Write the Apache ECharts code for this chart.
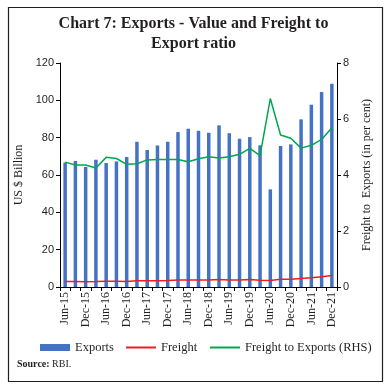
<!DOCTYPE html>
<html>
<head>
<meta charset="utf-8">
<script src="https://cdn.jsdelivr.net/npm/echarts@6/dist/echarts.min.js"></script>
<style>
html,body{margin:0;padding:0;background:#fff;}
#chart{width:387px;height:386px;}
</style>
</head>
<body>
<div id="chart"></div>
<script>
var categories = ['Jun-15','Sep-15','Dec-15','Mar-16','Jun-16','Sep-16','Dec-16','Mar-17','Jun-17','Sep-17','Dec-17','Mar-18','Jun-18','Sep-18','Dec-18','Mar-19','Jun-19','Sep-19','Dec-19','Mar-20','Jun-20','Sep-20','Dec-20','Mar-21','Jun-21','Sep-21','Dec-21'];
var exportsValues = [66.7,67.5,64.3,68.2,66.4,67.3,69.6,77.8,73.4,75.8,77.8,83.0,84.8,83.7,82.6,86.6,82.3,79.4,80.3,75.9,52.3,75.5,76.4,89.8,97.6,104.4,108.9];
var freightValues = [3.0,2.9,2.8,2.9,3.1,3.1,3.0,3.4,3.3,3.4,3.5,3.8,3.8,3.8,3.8,4.0,3.8,3.8,4.0,3.6,3.5,4.1,4.1,4.5,4.9,5.5,6.2];
var ratioValues = [4.46,4.36,4.36,4.25,4.63,4.59,4.38,4.40,4.54,4.55,4.55,4.55,4.47,4.58,4.65,4.61,4.65,4.74,4.95,4.69,6.73,5.43,5.31,4.96,5.06,5.27,5.69];
var leftTicks = {min:0, max:120, interval:20};
var rightTicks = {min:0, max:8, interval:2};

var serif = 'Liberation Serif';
var sans = 'Liberation Sans';
var legendText = {fontFamily:serif, fontSize:12.5, color:'#231f20'};
var chart = echarts.init(document.getElementById('chart'));
chart.setOption({
  animation:false,
  title:{text:'Chart 7: Exports - Value and Freight to\nExport ratio', left:'center', top:9,
    textStyle:{fontFamily:serif, fontWeight:'bold', fontSize:16, color:'#231f20', lineHeight:20}},
  grid:{left:60, right:50, top:63, bottom:99},
  legend:[
    {top:336, left:35, itemGap:0, itemWidth:30, itemHeight:7, icon:'rect', textStyle:legendText, data:['Exports']},
    {top:336, left:121, itemGap:0, itemWidth:30, itemHeight:2, icon:'rect', textStyle:legendText, data:['Freight']},
    {top:336, left:205, itemGap:0, itemWidth:30, itemHeight:2, icon:'rect', textStyle:legendText, data:['Freight to Exports (RHS)']}
  ],
  xAxis:{type:'category', data:categories, boundaryGap:true,
    axisLine:{lineStyle:{color:'#000', width:1}},
    axisTick:{show:true, interval:0, length:4, lineStyle:{color:'#000'}},
    axisLabel:{interval:1, rotate:90, fontFamily:serif, fontSize:12, color:'#231f20', margin:5}},
  yAxis:[
    {type:'value', min:leftTicks.min, max:leftTicks.max, interval:leftTicks.interval,
     name:'US $ Billion', nameLocation:'middle', nameGap:30, nameRotate:90,
     nameTextStyle:{fontFamily:serif, fontSize:12, color:'#231f20'},
     axisLine:{show:true, lineStyle:{color:'#000'}}, axisTick:{show:true, length:4, lineStyle:{color:'#000'}},
     splitLine:{show:false},
     axisLabel:{fontFamily:sans, fontSize:11, color:'#231f20', margin:6}},
    {type:'value', min:rightTicks.min, max:rightTicks.max, interval:rightTicks.interval, position:'right',
     name:'Freight to  Exports (in per cent)', nameLocation:'middle', nameGap:24, nameRotate:90,
     nameTextStyle:{fontFamily:serif, fontSize:12, color:'#231f20'},
     axisLine:{show:true, lineStyle:{color:'#000'}}, axisTick:{show:true, length:4, lineStyle:{color:'#000'}},
     splitLine:{show:false},
     axisLabel:{fontFamily:sans, fontSize:11, color:'#231f20', margin:6}}
  ],
  series:[
    {name:'Exports', type:'bar', data:exportsValues, barWidth:3.5, itemStyle:{color:'#4472C4'}, yAxisIndex:0},
    {name:'Freight', type:'line', data:freightValues, yAxisIndex:0, symbol:'none', lineStyle:{color:'#ED1C24', width:1.5}, itemStyle:{color:'#ED1C24'}},
    {name:'Freight to Exports (RHS)', type:'line', data:ratioValues, yAxisIndex:1, symbol:'none', lineStyle:{color:'#00A651', width:1.5}, itemStyle:{color:'#00A651'}}
  ],
  graphic:[
    {type:'rect', left:6, top:5, shape:{width:374, height:374}, style:{fill:'none', stroke:'#231f20', lineWidth:1.2}, silent:true},
    {type:'text', left:17, top:359, style:{text:'{b|Source:} RBI.', rich:{b:{fontWeight:'bold', fontFamily:serif, fontSize:10, fill:'#231f20'}}, fontFamily:serif, fontSize:10, fill:'#231f20'}}
  ]
});
</script>
</body>
</html>
